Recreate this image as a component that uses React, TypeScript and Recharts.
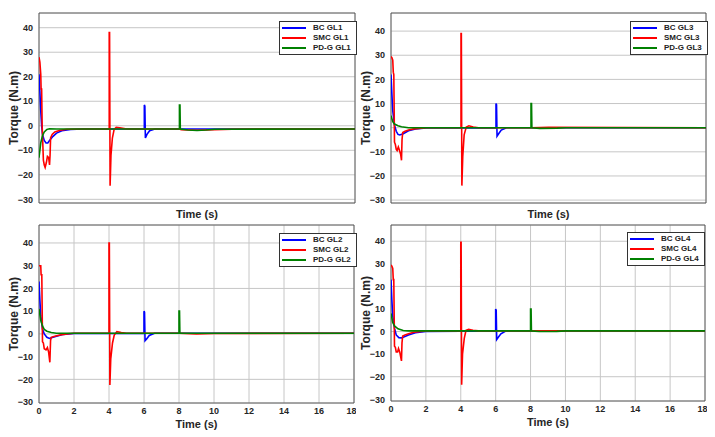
import React from "react"
import { LineChart, Line, XAxis, YAxis, CartesianGrid, ReferenceArea, Legend } from "recharts"

// time axis + torque ticks
const timeTicks = [0, 2, 4, 6, 8, 10, 12, 14, 16, 18]
const torqueTicks = [-30, -20, -10, 0, 10, 20, 30, 40]

// [t, torque] samples
const bcGL1: [number, number][] = [
  [0, 21], [0.05, 14], [0.1, 6], [0.15, 0], [0.2, -3.5], [0.3, -6], [0.4, -7], [0.5, -7], [0.6, -6],
  [0.8, -4.3], [1.0, -3], [1.3, -2], [1.8, -1.5], [2.5, -1.3], [6, -1.3], [6, 8.5], [6.03, 8], [6.06, -5],
  [6.15, -3.5], [6.3, -2], [6.6, -1.3], [18, -1.3],
]
const smcGL1: [number, number][] = [
  [0, 28], [0.05, 26], [0.1, 21], [0.12, 15], [0.15, 15], [0.18, 0], [0.25, -14], [0.3, -16], [0.35, -17],
  [0.42, -15], [0.48, -12.5], [0.55, -13], [0.6, -16], [0.63, -12], [0.66, -5], [0.75, -3.5], [0.9, -2.5],
  [1.2, -1.8], [1.6, -1.4], [2.5, -1.3], [4, -1.3], [4, 38], [4.02, 38], [4.05, -24.5], [4.1, -12],
  [4.18, -5], [4.28, -1.5], [4.4, -0.6], [4.6, -0.8], [5, -1.3], [8, -1.3], [8.1, -1.6], [9, -1.8],
  [10, -1.6], [11, -1.4], [18, -1.3],
]
const pdgGL1: [number, number][] = [
  [0, -13], [0.05, -10], [0.1, -7], [0.2, -4], [0.3, -2.5], [0.45, -1.5], [0.6, -1.2], [1, -1.3], [8, -1.3],
  [8, 8.5], [8.03, 8.5], [8.05, -1.3], [8.5, -1.7], [9, -1.9], [9.5, -1.7], [10, -1.4], [18, -1.3],
]

const bcGL3: [number, number][] = [
  [0, 22], [0.05, 14], [0.1, 7], [0.2, 1], [0.3, -1.5], [0.4, -2.8], [0.5, -3], [0.7, -2.5], [1, -1.3],
  [1.4, -0.5], [2, -0.1], [6, 0], [6, 10], [6.03, 9.5], [6.06, -3.5], [6.15, -2.5], [6.3, -1], [6.6, 0], [18, 0],
]
const smcGL3: [number, number][] = [
  [0, 29.5], [0.05, 29], [0.1, 28], [0.13, 23], [0.16, 22], [0.2, -6], [0.25, -7], [0.3, -9], [0.35, -9.5],
  [0.42, -8], [0.47, -9], [0.55, -11], [0.6, -13.5], [0.63, -5], [0.67, -2], [0.8, -1.5], [1.0, -1],
  [1.3, -0.5], [2, 0], [4, 0], [4, 39], [4.02, 39], [4.05, -24], [4.1, -12], [4.18, -3], [4.3, 0.3],
  [4.45, 0.8], [4.7, 0.3], [5, 0], [8, 0], [9, 0.2], [18, 0],
]
const pdgGL3: [number, number][] = [
  [0, 5], [0.1, 2.5], [0.2, 1.5], [0.4, 0.8], [0.6, 0.4], [1, 0], [8, 0], [8, 10], [8.03, 10], [8.05, 0],
  [8.5, -0.3], [9.5, -0.2], [10, 0], [18, 0],
]

const bcGL2: [number, number][] = [
  [0, 23], [0.05, 15], [0.1, 8], [0.2, 2], [0.3, 0], [0.45, -1.5], [0.6, -2], [0.8, -1.5], [1.0, -1],
  [1.4, -0.2], [2, 0.2], [6, 0.3], [6, 10], [6.03, 9.5], [6.06, -3], [6.15, -2.2], [6.3, -0.7], [6.6, 0.3], [18, 0.3],
]
const smcGL2: [number, number][] = [
  [0, 30], [0.05, 30], [0.1, 30], [0.12, 26], [0.16, 26], [0.2, -3.5], [0.25, -4], [0.3, -6.5], [0.4, -7],
  [0.48, -6], [0.55, -8], [0.62, -12.5], [0.66, -3], [0.7, -1.5], [0.9, -1], [1.2, -0.5], [1.6, 0], [2, 0.3],
  [4, 0.3], [4, 40], [4.02, 40], [4.05, -22.5], [4.1, -11], [4.2, -4], [4.3, -0.5], [4.45, 1], [4.7, 0.6],
  [5, 0.3], [8, 0.3], [9, 0], [10, 0.2], [18, 0.3],
]
const pdgGL2: [number, number][] = [
  [0, 11], [0.1, 6], [0.2, 3.5], [0.3, 2], [0.45, 1.2], [0.7, 0.6], [1, 0.3], [8, 0.3], [8, 10], [8.03, 10],
  [8.05, 0.3], [18, 0.3],
]

const bcGL4: [number, number][] = [
  [0, 23], [0.05, 14], [0.1, 7], [0.2, 1.5], [0.3, -1.5], [0.45, -2.7], [0.6, -2.8], [0.8, -2.2], [1.0, -1.5],
  [1.4, -0.5], [2, 0.1], [6, 0.3], [6, 10], [6.03, 9.5], [6.06, -3.5], [6.15, -2.5], [6.3, -1], [6.6, 0.3], [18, 0.3],
]
const smcGL4: [number, number][] = [
  [0, 29.5], [0.05, 29], [0.1, 28], [0.13, 23], [0.16, 23], [0.2, -6.5], [0.25, -7], [0.3, -9], [0.38, -9],
  [0.43, -7.5], [0.5, -9], [0.6, -13], [0.63, -5], [0.67, -2], [0.8, -1.5], [1.0, -1], [1.3, -0.3], [2, 0.3],
  [4, 0.3], [4, 39.5], [4.02, 39.5], [4.05, -23.5], [4.1, -10], [4.2, -3], [4.3, 0.5], [4.45, 1], [4.7, 0.6],
  [5, 0.3], [18, 0.3],
]
const pdgGL4: [number, number][] = [
  [0, 8], [0.1, 4], [0.2, 2.5], [0.4, 1.2], [0.7, 0.5], [1, 0.3], [8, 0.3], [8, 10], [8.03, 10], [8.05, 0.3],
  [8.5, 0], [9.5, 0.1], [10, 0.3], [18, 0.3],
]

const FONT = '"Liberation Sans", Arial, Helvetica, sans-serif'
const BLUE = "#0000ff"
const RED = "#ff0000"
const GREEN = "#008000"

const toRows = (pts: [number, number][]) => pts.map(([t, v]) => ({ t, v }))
const fmtTorque = (v: number) => (v < 0 ? `\u2212${-v}` : `${v}`)

type PanelProps = {
  gl: string
  bc: [number, number][]
  smc: [number, number][]
  pdg: [number, number][]
  left: number
  top: number
  width: number
  height: number
  domain: [number, number]
  showTicks: boolean
  xAxisHeight: number
  bottom: number
  labelOffset: number
  legendLeft: number
  legendTop: number
}

function LegendBox({ gl }: { gl: string }) {
  const rows = [
    { name: `BC ${gl}`, color: BLUE },
    { name: `SMC ${gl}`, color: RED },
    { name: `PD-G ${gl}`, color: GREEN },
  ]
  return (
    <div
      style={{
        border: "1px solid #333",
        background: "#fff",
        padding: "1px 5px 1px 2px",
        fontFamily: FONT,
        fontWeight: 700,
        fontSize: 8,
        color: "#222",
        lineHeight: "10px",
        whiteSpace: "nowrap",
      }}
    >
      {rows.map((r) => (
        <div key={r.name} style={{ display: "flex", alignItems: "center" }}>
          <span style={{ display: "inline-block", width: 24, height: 2, background: r.color, marginRight: 7 }} />
          <span>{r.name}</span>
        </div>
      ))}
    </div>
  )
}

function Panel(p: PanelProps) {
  return (
    <div style={{ position: "absolute", left: p.left, top: p.top }}>
      <LineChart
        width={p.width}
        height={p.height}
        margin={{ top: 13, right: 2, left: 0, bottom: p.bottom }}
        style={{ fontFamily: FONT }}
      >
        <CartesianGrid stroke="#c6c6c6" strokeWidth={1} />
        <XAxis
          dataKey="t"
          type="number"
          domain={[0, 18]}
          ticks={timeTicks}
          allowDataOverflow
          axisLine={false}
          tickLine={false}
          tickSize={4}
          tickMargin={1}
          height={p.xAxisHeight}
          tick={p.showTicks ? { fill: "#262626", fontSize: 9, fontWeight: 700 } : false}
          label={{
            value: "Time (s)",
            position: "insideBottom",
            offset: p.labelOffset,
            style: { fill: "#262626", fontSize: 11, fontWeight: 700 },
          }}
        />
        <YAxis
          type="number"
          domain={p.domain}
          ticks={torqueTicks}
          allowDataOverflow
          axisLine={false}
          tickLine={false}
          tickSize={3}
          tickMargin={3}
          width={39}
          tickFormatter={fmtTorque}
          tick={{ fill: "#262626", fontSize: 9, fontWeight: 700 }}
          label={{
            value: "Torque (N.m)",
            angle: -90,
            position: "insideLeft",
            offset: 14,
            style: { textAnchor: "middle", fill: "#262626", fontSize: 12, fontWeight: 700 },
          }}
        />
        <ReferenceArea x1={0} x2={18} y1={p.domain[0]} y2={p.domain[1]} fill="none" stroke="#444" strokeWidth={0.8} />
        <Line data={toRows(p.bc)} dataKey="v" stroke={BLUE} strokeWidth={1.6} dot={false} isAnimationActive={false} />
        <Line data={toRows(p.smc)} dataKey="v" stroke={RED} strokeWidth={1.6} dot={false} isAnimationActive={false} />
        <Line data={toRows(p.pdg)} dataKey="v" stroke={GREEN} strokeWidth={1.6} dot={false} isAnimationActive={false} />
        <Legend
          layout="vertical"
          align="center"
          verticalAlign="middle"
          content={() => <LegendBox gl={p.gl} />}
          wrapperStyle={{ left: p.legendLeft, top: p.legendTop, width: "auto", height: "auto", position: "absolute" }}
        />
      </LineChart>
    </div>
  )
}

export default function App() {
  return (
    <div style={{ position: "absolute", left: 0, top: 0, width: 715, height: 437, background: "#fff" }}>
      <Panel gl="GL1" bc={bcGL1} smc={smcGL1} pdg={pdgGL1} left={0} top={0} width={357} height={222}
        domain={[-31.5, 46]} showTicks={false} xAxisHeight={15} bottom={4} labelOffset={0}
        legendLeft={279} legendTop={21} />
      <Panel gl="GL3" bc={bcGL3} smc={smcGL3} pdg={pdgGL3} left={352} top={0} width={356} height={222}
        domain={[-31.2, 47.5]} showTicks={false} xAxisHeight={15} bottom={4} labelOffset={0}
        legendLeft={278} legendTop={21} />
      <Panel gl="GL2" bc={bcGL2} smc={smcGL2} pdg={pdgGL2} left={0} top={212} width={356} height={225}
        domain={[-30.4, 47.9]} showTicks={true} xAxisHeight={30} bottom={4} labelOffset={5}
        legendLeft={279} legendTop={21} />
      <Panel gl="GL4" bc={bcGL4} smc={smcGL4} pdg={pdgGL4} left={352} top={212} width={355} height={225}
        domain={[-30.75, 47.2]} showTicks={true} xAxisHeight={30} bottom={6} labelOffset={5}
        legendLeft={275} legendTop={20} />
    </div>
  )
}
